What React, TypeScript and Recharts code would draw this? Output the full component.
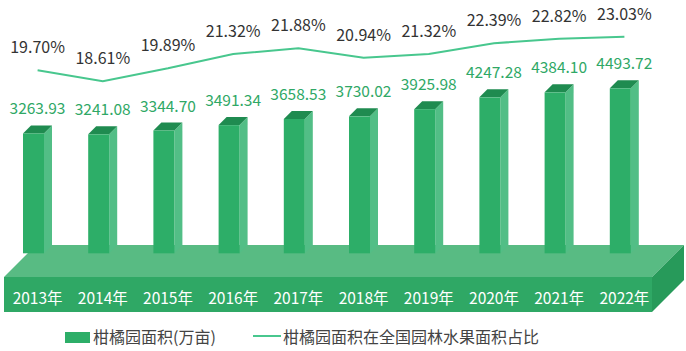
import { ComposedChart, Bar, Line, XAxis, YAxis, Legend, LabelList, ReferenceArea } from 'recharts';

const years = ['2013年', '2014年', '2015年', '2016年', '2017年', '2018年', '2019年', '2020年', '2021年', '2022年'];
const areaValues = [3263.93, 3241.08, 3344.7, 3491.34, 3658.53, 3730.02, 3925.98, 4247.28, 4384.1, 4493.72];
const shareValues = [19.7, 18.61, 19.89, 21.32, 21.88, 20.94, 21.32, 22.39, 22.82, 23.03];

const areaName = '柑橘园面积(万亩)';
const shareName = '柑橘园面积在全国园林水果面积占比';

const FONT = "'Noto Sans CJK SC', 'Noto Sans', sans-serif";
const LINE_COLOR = '#48c78e';

const data = years.map((year, i) => ({ year, area: areaValues[i], share: shareValues[i] }));

const FRONT_W = 21;
const DEPTH_X = 8;
const DEPTH_Y = 8;

const Bar3D = (props: any) => {
  const { x, y, height } = props;
  const bottom = y + height;
  const r = x + FRONT_W;
  return (
    <g>
      <polygon points={`${r},${y} ${r + DEPTH_X},${y - DEPTH_Y} ${r + DEPTH_X},${bottom - DEPTH_Y} ${r},${bottom}`} fill="#52be86" />
      <polygon points={`${x},${y} ${x + DEPTH_X},${y - DEPTH_Y} ${r + DEPTH_X},${y - DEPTH_Y} ${r},${y}`} fill="#1f8b50" />
      <rect x={x} y={y} width={FRONT_W} height={height} fill="#2dae68" />
    </g>
  );
};

// platform under the bars
const Floor = (props: any) => {
  const { x, y, width, height } = props;
  const base = y + height;
  const l = x - 1;
  const r = x + width - 5;
  const front = base + 9;
  const back = base - 23;
  const low = base + 44;
  const d = 32;
  return (
    <g>
      <polygon points={`${l},${front} ${l + d},${back} ${r + d},${back} ${r},${front}`} fill="#58bb83" />
      <polygon points={`${r},${front} ${r + d},${back} ${r + d},${low - d} ${r},${low}`} fill="#279a5a" />
      <rect x={l} y={front} width={r - l} height={low - front} fill="#2fa865" />
    </g>
  );
};

const YearTick = (props: any) => {
  const { x, y, payload } = props;
  return (
    <text x={x} y={y + 21} textAnchor="middle" dominantBaseline="central" fill="#ffffff" style={{ fontSize: 15.5, fontFamily: FONT }}>
      {payload.value}
    </text>
  );
};

const AreaLabel = (props: any) => {
  const { x, y, width, value } = props;
  return (
    <text x={x + width / 2} y={y - 26} textAnchor="middle" dominantBaseline="central" fill="#2fa866" style={{ fontSize: 15.5, fontFamily: FONT }}>
      {Number(value).toFixed(2)}
    </text>
  );
};

const ShareLabel = (props: any) => {
  const { x, y, value } = props;
  return (
    <text x={x} y={y - 24} textAnchor="middle" dominantBaseline="central" fill="#333333" style={{ fontSize: 16, fontFamily: FONT }}>
      {Number(value).toFixed(2)}%
    </text>
  );
};

const LegendBox = () => (
  <div style={{ position: 'relative', height: 39, fontFamily: FONT, fontSize: 16, color: '#444' }}>
    <div style={{ position: 'absolute', left: 65, top: 20, width: 25, height: 11, background: '#2dae68' }} />
    <div style={{ position: 'absolute', left: 93, top: 13, lineHeight: '22px', whiteSpace: 'nowrap' }}>{areaName}</div>
    <div style={{ position: 'absolute', left: 253, top: 23, width: 28, height: 2, background: LINE_COLOR }} />
    <div style={{ position: 'absolute', left: 283, top: 13, lineHeight: '22px', whiteSpace: 'nowrap' }}>{shareName}</div>
  </div>
);

export default function App() {
  return (
    <div style={{ position: 'absolute', left: 0, top: 0, width: 686, height: 351, background: '#ffffff' }}>
      <ComposedChart width={686} height={351} data={data} margin={{ top: 22, right: 29, left: 5, bottom: 0 }}>
        <XAxis dataKey="year" axisLine={false} tickLine={false} height={44} tick={<YearTick />} interval={0} />
        <YAxis yAxisId="left" hide domain={[-400, 6300]} />
        <YAxis yAxisId="right" orientation="right" hide domain={[0, 24.5]} />
        <ReferenceArea yAxisId="left" y1={-400} y2={0} shape={<Floor />} />
        <Legend verticalAlign="bottom" content={<LegendBox />} wrapperStyle={{ left: 0, width: 686, margin: 0 }} />
        <Bar yAxisId="left" dataKey="area" name={areaName} barSize={29} shape={<Bar3D />} isAnimationActive={false}>
          <LabelList dataKey="area" content={<AreaLabel />} />
        </Bar>
        <Line yAxisId="right" dataKey="share" name={shareName} type="linear" stroke={LINE_COLOR} strokeWidth={2} dot={false} isAnimationActive={false}>
          <LabelList dataKey="share" content={<ShareLabel />} />
        </Line>
      </ComposedChart>
    </div>
  );
}
